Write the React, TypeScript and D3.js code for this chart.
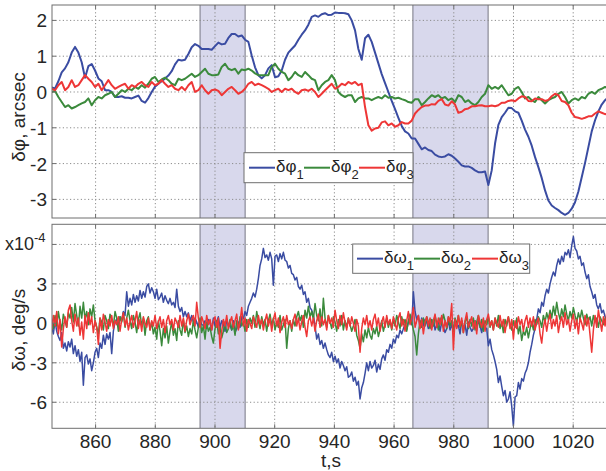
import React from "react";
import * as d3 from "d3";

// ---- data ----
const T_START = 845.3; // s, first sample
const PHI_STEP = 1.1167; // s between attitude samples
const OMEGA_STEP = 0.55835; // s between rate samples

const xTicks = [860, 880, 900, 920, 940, 960, 980, 1000, 1020];
const phiTicks = [2, 1, 0, -1, -2, -3];
const omegaTicks = [6, 3, 0, -3, -6];
const omegaTickLabels = ["", "3", "0", "-3", "-6"];
const shadedIntervals = [
  [895.0, 910.1],
  [966.3, 991.5],
];
const seriesColors = ["#3a4ca2", "#3b8a3c", "#ee3636"];
const phiNames = ["1", "2", "3"];

const dPhi1 = [
  0.13, 0.1, 0.3, 0.55, 0.66, 0.83, 1.1, 1.26, 1.1, 0.83, 0.4, 0.72, 0.78, 0.6, 0.38, 0.3, 0.05, 0.05, 0, -0.14,
  -0.14, -0.12, -0.16, -0.16, -0.18, -0.14, -0.1, -0.25, -0.3, -0.17, 0, 0.15, 0.23, 0.3, 0.38, 0.46, 0.58, 0.77, 0.9, 0.88,
  0.9, 1.06, 1.25, 1.34, 1.29, 1.2, 1.2, 1.2, 1.18, 1.28, 1.38, 1.33, 1.35, 1.51, 1.62, 1.62, 1.55, 1.58, 1.46, 1.4,
  1.02, 0.69, 0.47, 0.38, 0.47, 0.66, 0.75, 0.41, 0.44, 0.6, 0.9, 1.1, 1.2, 1.3, 1.46, 1.6, 1.72, 1.88, 2.1, 2.14,
  2.1, 2.17, 2.2, 2.15, 2.16, 2.22, 2.21, 2.21, 2.2, 2.17, 2.0, 1.72, 1.2, 0.9, 1.5, 1.6, 1.4, 1.1, 0.8, 0.5,
  0.25, 0, -0.25, -0.48, -0.72, -0.95, -1.1, -1.16, -1.3, -1.3, -1.45, -1.6, -1.55, -1.62, -1.65, -1.75, -1.8, -1.82, -1.8, -1.74,
  -1.78, -1.86, -1.95, -2.05, -2.08, -2.08, -2.12, -2.19, -2.24, -2.24, -2.22, -2.6, -2.19, -1.44, -0.92, -0.7, -0.58, -0.44, -0.45, -0.54,
  -0.58, -0.8, -1.05, -1.25, -1.5, -1.82, -2.1, -2.4, -2.75, -3.03, -3.17, -3.24, -3.3, -3.38, -3.43, -3.38, -3.26, -3.08, -2.78, -2.38,
  -1.98, -1.54, -1.1, -0.79, -0.54, -0.35, -0.23, -0.15,
];
const dPhi2 = [
  0, 0.03, -0.14, -0.28, -0.42, -0.37, -0.46, -0.42, -0.37, -0.32, -0.28, -0.18, -0.37, -0.23, -0.14, -0.18, -0.09, -0.05, 0, -0.14,
  -0.05, 0.05, 0, 0.09, 0.05, 0.14, 0.09, 0.19, 0.12, 0.23, 0.37, 0.42, 0.28, 0.35, 0.4, 0.33, 0.23, 0.19, 0.37, 0.33,
  0.37, 0.44, 0.51, 0.42, 0.47, 0.56, 0.65, 0.51, 0.47, 0.47, 0.49, 0.7, 0.79, 0.65, 0.61, 0.65, 0.51, 0.63, 0.61, 0.65,
  0.6, 0.52, 0.47, 0.47, 0.47, 0.47, 0.7, 0.79, 0.65, 0.56, 0.51, 0.33, 0.42, 0.56, 0.47, 0.42, 0.56, 0.47, 0.37, 0.33,
  0.05, 0.19, 0.28, 0.33, 0.47, 0.33, 0, -0.09, -0.14, -0.09, -0.09, -0.28, -0.18, -0.14, -0.18, -0.18, -0.23, -0.18, -0.14, -0.18,
  -0.09, -0.16, -0.14, -0.18, -0.16, -0.2, -0.23, -0.28, -0.3, -0.2, -0.2, -0.37, -0.28, -0.18, -0.09, -0.14, -0.09, -0.18, -0.14, -0.23,
  -0.18, -0.28, -0.09, -0.14, -0.28, -0.23, -0.32, -0.37, -0.28, -0.14, -0.05, 0.19, 0.09, 0.14, 0.09, 0.19, 0.05, -0.09, -0.05, 0.09,
  0.14, 0, -0.18, -0.14, -0.23, -0.28, -0.14, -0.23, -0.32, -0.23, -0.18, -0.14, -0.05, 0, -0.14, -0.32, -0.23, -0.18, -0.23, -0.14,
  -0.18, -0.05, 0, -0.05, 0.05, 0.09, 0.14, 0.09,
];
const dPhi3 = [
  0.09, 0.05, 0.19, 0.28, 0.05, 0.14, 0.33, 0.14, 0.19, 0.33, 0.47, 0.37, 0.28, 0.14, 0.23, 0.05, 0.19, 0.33, 0.19, 0.09,
  0.14, 0.19, 0.23, 0.09, 0.19, 0.14, 0.23, 0.28, 0.19, 0.14, 0.28, 0.19, 0.23, 0.33, 0.23, 0.14, 0.19, 0.09, 0.05, 0.14,
  0.05, 0.19, 0.28, 0, 0.05, 0.19, 0.05, -0.05, 0.05, 0.07, 0.03, -0.09, 0, 0.09, 0.14, 0.05, -0.05, 0, 0.09, 0.23,
  0.28, 0.19, 0.23, 0.19, 0.14, 0.09, 0, 0.05, 0.09, 0, 0.09, 0.05, 0.09, 0, -0.05, 0.05, 0.07, 0.03, 0.09, 0,
  -0.14, -0.05, 0.05, 0.14, 0.23, 0.09, 0.14, 0.23, 0.19, 0.28, 0.23, 0.28, 0.19, 0.23, -0.42, -0.93, -1.08, -1.02, -1.0, -0.85,
  -0.82, -0.93, -0.88, -0.97, -0.93, -0.84, -0.88, -0.88, -0.8, -0.6, -0.5, -0.42, -0.38, -0.38, -0.34, -0.35, -0.25, -0.2, -0.35, -0.38,
  -0.26, -0.35, -0.58, -0.55, -0.48, -0.46, -0.4, -0.4, -0.38, -0.37, -0.4, -0.4, -0.38, -0.4, -0.37, -0.3, -0.3, -0.25, -0.23, -0.26,
  -0.18, -0.12, -0.14, -0.25, -0.26, -0.18, -0.2, -0.2, -0.25, -0.22, -0.12, -0.05, -0.09, -0.25, -0.28, -0.37, -0.58, -0.7, -0.72, -0.75,
  -0.72, -0.68, -0.68, -0.6, -0.54, -0.58, -0.62, -0.6,
];

// rates, in units of 1e-4 deg/s
const dOmega1 = [
  -0.3, -0.8, 0.2, -0.6, -1.0, -1.3, -0.7, -1.9, -1.5, -2.1, -1.4, -1.8,
  -1.2, -2.3, -1.7, -2.5, -2.0, -2.9, -2.2, -4.7, -2.6, -2.4, -3.1, -2.7,
  -3.6, -3.0, -2.2, -1.9, -2.6, -1.5, -1.9, -0.9, -1.6, -0.8, -1.2, -0.7,
  -2.3, -0.6, 0.1, 0.35, -0.2, 0.5, 0.2, 0.9, 0.6, 2.4, 1.3, 1.9,
  1.4, 2.2, 1.6, 2.1, 1.7, 2.5, 1.9, 2.4, 2.0, 2.8, 3.0, 2.3,
  2.7, 2.4, 1.9, 2.6, 1.8, 2.0, 2.3, 1.6, 2.1, 1.75, 1.5, 1.9,
  1.4, 1.6, 1.2, 2.6, 1.3, 0.9, 1.2, 0.5, 0.9, 0.5, 0.8, 0.2,
  0.6, 0.1, 0.4, 0.1, -0.3, 0.3, -0.1, -0.15, 0.2, -0.4, 0.3, 0,
  -0.5, 0.4, -0.2, 0.1, 0.5, -0.3, 0.2, 0, -0.6, 0.3, -0.2, -0.15,
  -0.5, 0.2, -0.7, -0.4, 0.1, -0.3, 0.5, 0.35, 0.9, 0.6, 1.3, 1.6,
  1.9, 2.3, 2.0, 2.6, 3.4, 4.4, 4.9, 5.7, 5.0, 5.2, 4.8, 5.4,
  4.9, 2.9, 5.1, 5.2, 4.7, 5.3, 4.9, 5.4, 4.8, 4.7, 4.2, 4.4,
  3.8, 3.7, 3.3, 3.5, 2.8, 2.6, 2.9, 2.2, 2.4, 1.6, 1.9, 1.2,
  1.0, 0.6, -0.2, -1.2, -0.8, -1.6, -1.3, -1.9, -1.5, -2.0, -2.4, -2.6,
  -2.2, -2.9, -2.5, -3.0, -2.7, -3.4, -2.9, -3.2, -3.6, -3.3, -4.1, -4.0,
  -3.7, -4.4, -4.1, -4.7, -4.4, -5.75, -4.9, -4.5, -3.8, -3.0, -3.6, -2.9,
  -3.4, -3.2, -2.8, -3.7, -3.1, -3.5, -2.7, -2.4, -2.8, -2.0, -2.2, -1.6,
  -1.9, -1.2, -1.5, -0.9, -1.1, -0.5, -0.8, -0.4, -0.1, -0.5, 0.1, 0.4,
  -0.1, 2.4, 0.9, 0.3, 0.6, -0.3, 0.4, -0.2, 0.3, 0.1, -0.4, 0.2,
  -0.3, 0.3, -0.5, -0.15, 0.2, -0.6, 0.1, -0.3, -0.7, -0.4, 0.2, -0.5,
  -0.1, -0.6, 0.3, -0.3, -0.15, -0.8, 0.2, -0.4, -0.1, -0.9, 0.1, -0.3,
  -0.6, -0.4, 0.2, -0.5, 0.3, -0.2, -0.7, 0.1, -0.3, -0.4, -1.7, -1.2,
  -2.0, -2.4, -2.9, -3.5, -4.5, -4.0, -4.8, -5.5, -5.1, -6.0, -5.75, -5.2,
  -6.3, -7.8, -5.6, -5.5, -4.5, -5.0, -4.2, -4.4, -3.8, -3.5, -3.0, -2.2,
  -1.6, -0.9, -0.4, 0.3, 1.1, 0.8, 1.6, 1.3, 2.1, 2.6, 2.3, 3.0,
  3.5, 3.9, 3.6, 4.4, 4.9, 4.5, 5.1, 4.7, 5.4, 5.2, 5.6, 5.0,
  5.9, 6.6, 5.7, 5.5, 4.9, 5.1, 4.4, 4.6, 3.9, 3.4, 3.7, 2.8,
  2.4, 1.9, 2.2, 1.4, 1.1, 1.5, 0.8, 1.0, 0.5, 0.35, 0.6, 0.2,
];
const dOmega2 = [
  0.3, -0.4, 0.6, -0.2, 0.9, 0.1, -0.5, 0.7, 0.2, -0.3, 0.8, 0.4,
  1.2, 0.1, 1.5, 0.6, -0.2, 1.3, 0.4, 1.6, 0.3, 0.9, -0.1, 1.1,
  0.5, 1.4, 0.2, -0.3, -0.8, 0.4, 0.1, -0.5, 0.6, 0.2, -0.4, 0.7,
  0.3, -0.2, 0.9, 0.4, -0.6, 0.5, 0.1, 0.8, -0.3, 0.4, 1.0, 0.2,
  -0.4, 0.6, 0.1, -0.7, 0.3, 0.8, -0.2, 0.4, -0.9, 0.2, 0.5, -0.5,
  0.1, -0.8, -0.3, -1.2, 0.2, -0.6, -1.7, -0.4, -1.1, -0.2, -1.5, -0.6,
  0.1, -0.9, -0.4, -1.3, 0.2, -0.5, -0.9, 0.3, -0.7, -0.2, -1.0, -0.4,
  -0.8, 0.2, -0.5, -1.1, -0.3, 0.4, -0.7, -0.2, -1.2, 0.1, -0.6, -0.3,
  -1.0, -1.5, -0.4, 0.2, -0.8, -0.3, -1.1, -0.6, 0.1, -0.7, -0.4, 0.3,
  -0.5, -0.1, -0.9, 0.2, -0.4, 0.5, -0.2, 0.1, -0.6, 0.3, -0.3, 0.4,
  0.0, 0.6, -0.3, 0.9, 0.2, -0.4, 0.5, -0.1, 0.3, -0.6, 0.2, 0.7,
  -0.2, 0.4, -0.5, 0.1, -0.3, 0.6, -0.5, -0.1, 0.3, -1.9, -0.4, 0.2,
  -0.6, 0.3, -0.2, 0.5, 0.9, 0.2, 0.6, -0.3, 1.0, 0.4, 1.3, 0.5,
  0.9, 0.3, 1.5, 0.6, 0.2, 1.1, -0.2, 1.9, 0.4, -0.3, 0.6, 0.1,
  -0.4, 0.5, 0.1, -0.6, 0.3, -0.2, 0.6, -0.5, 0.2, -0.3, 0.4, -0.1,
  -0.6, -0.2, 0.3, -0.9, -1.3, -1.9, -0.8, -1.4, -0.5, -1.1, -0.3, -0.9,
  -1.2, -0.4, -0.8, -0.2, -1.0, -0.5, 0.2, -0.6, -0.1, 0.4, -0.3, 0.2,
  -0.5, 0.3, -0.2, 0.6, 0.1, -0.4, 0.5, -0.1, 0.3, -0.6, 0.2, 0.7,
  0.1, -0.5, -1.0, -2.4, -0.8, 0.2, -0.3, 0.4, -0.2, 0.5, 0.1, -0.4,
  0.3, -0.2, 0.6, 0.0, -0.5, 0.4, -0.1, 0.7, 0.2, -0.4, 0.5, -0.2,
  0.2, -0.6, 0.4, -0.1, 0.6, -0.3, 0.2, -0.7, 0.1, 0.5, -0.4, 0.3,
  -0.2, 0.4, -0.5, 0.1, 0.6, -0.3, 0.3, -0.6, 0.2, -0.1, 0.5, -0.3,
  0.2, -0.5, 0.4, -0.2, 0.6, -0.4, 0.1, -0.7, 0.3, -0.2, 0.5, -0.1,
  -0.5, 0.2, -0.3, 0.4, -0.8, -0.2, -1.3, -0.6, -0.9, -0.3, -1.1, -0.4,
  0.1, -0.5, 0.3, -0.1, 0.5, 0.2, -0.3, 0.6, 0.1, 0.8, 0.3, 1.0,
  0.4, 1.3, 0.6, 1.6, 0.8, 0.3, 1.1, 0.5, 1.4, 0.7, 0.2, 0.9,
  0.4, 1.2, 0.6, 0.1, 0.8, 0.3, 1.0, 0.4, -0.1, 0.7, 0.2, 0.5,
  -0.2, 0.6, 0.1, 0.4, -0.3, 0.5, 0.2, -0.1, 0.4, 0.0, 0.3, -0.2,
];
const dOmega3 = [
  -0.5, 0.6, -0.2, 0.9, -0.8, 0.3, -1.8, -0.4, 0.5, -0.3, 1.0, 1.4,
  0.2, -0.6, 0.7, -0.2, 0.4, -0.9, 0.1, -1.2, 0.6, -0.4, 0.8, -0.1,
  0.5, -0.7, 0.2, -0.3, -1.6, 0.4, -0.5, 0.7, 0.1, -0.6, 0.3, -0.2,
  0.6, -0.4, 0.2, -0.1, 0.5, -0.6, 0.3, 0.8, -0.2, 0.4, -0.5, 0.1,
  0.6, -0.3, 0.2, 0.9, -0.4, 0.3, -0.6, 0.5, 0.0, -0.3, 0.4, -0.5,
  0.2, -0.2, 0.6, -0.4, 0.1, 0.5, -0.3, 0.3, -0.7, 0.2, 0.6, -0.1,
  0.3, -0.5, 0.4, 0.1, -0.3, 0.6, -0.2, 0.4, -0.6, 0.2, 0.7, -0.1,
  0.3, 0.6, -0.2, 1.6, 0.4, -0.3, 0.5, 0.1, -0.4, 0.6, -0.1, 0.3,
  -0.5, 0.2, 0.5, -0.3, 0.4, -1.9, -0.6, 0.3, -0.2, 0.6, -0.4, 0.1,
  0.5, -0.3, 0.2, 0.7, -0.5, 0.1, 1.2, -0.2, 0.4, -0.6, 0.3, 0.0,
  -0.4, 0.5, 0.1, -0.3, 0.6, -0.1, 0.3, -0.5, 0.2, 0.7, -0.2, 0.4,
  -0.6, 0.3, 0.8, -0.2, 0.4, -0.7, 0.1, 0.5, -0.3, 0.6, -0.1, 0.2,
  -0.4, 0.3, 0.7, -0.2, 0.4, -0.5, 0.1, 0.6, -0.3, -1.0, 0.2, 0.5,
  -0.2, 0.4, -0.6, 0.2, 0.7, -0.3, 0.5, -0.1, 0.3, -0.5, 0.6, 0.0,
  0.4, -0.3, 1.0, 0.2, -0.4, 0.6, -0.1, 0.8, 0.1, -0.5, 0.4, -0.2,
  0.5, 0.0, -0.6, 0.3, -0.2, -2.2, -0.4, 0.4, -0.1, 0.6, -0.3, 0.2,
  -0.5, 0.3, 0.7, -0.2, 0.4, -0.6, 0.1, 0.5, -0.3, 0.6, -0.1, 0.3,
  -0.4, 0.5, 0.0, -0.5, 0.4, 0.8, -0.2, 0.3, -0.6, 0.2, 0.9, -0.1,
  0.4, 1.2, -0.3, 0.2, 0.6, -0.4, 0.3, -0.8, 0.1, 0.5, -0.2, 0.4,
  -0.5, 0.2, 0.7, -0.3, 0.4, -0.1, 0.6, -0.6, 0.2, -0.3, 0.5, 0.1,
  1.5, -2.0, 0.3, -0.4, 0.6, -0.2, 0.4, -0.7, 0.2, 0.8, -0.3, 0.1,
  0.5, -0.4, 0.2, -0.8, 0.6, 0.1, -0.3, 0.4, -0.6, 0.3, 0.7, -0.2,
  0.2, -0.5, 0.4, 0.0, -0.3, 0.6, -0.2, 0.3, -0.7, 0.1, 0.5, -0.4,
  0.3, -1.2, 0.2, -0.4, 0.5, -0.1, 0.3, -0.6, 0.2, 0.6, -0.3, 0.4,
  -0.2, 0.5, -0.5, 0.1, 0.4, -0.8, -1.5, -0.3, 0.3, -0.6, 0.2, 0.7,
  -0.4, 0.3, -0.2, 0.6, -0.7, 0.1, 0.5, -0.3, 0.8, -0.1, 0.3, -0.6,
  0.2, 0.7, -0.4, 0.3, -0.8, 0.4, 0.0, -0.5, 0.6, -0.2, 0.4, -0.9,
  -2.2, -0.5, 0.6, -0.3, 1.0, 0.2, -0.6, 0.5, -0.2, 0.8, -0.4, 0.3,
];

// ---- layout ----
const W = 606;
const H = 471;
const PLOT_L = 52;
const PLOT_R = 612;
const TOP = { y0: 5, y1: 218, domain: [-3.52, 2.43] };
const BOT = { y0: 224.3, y1: 428.3, domain: [-7.98, 7.53] };
const FONT = "'Liberation Sans', Arial, Helvetica, sans-serif";
const TXT = "#262626";
const FRAME = "#6e6e6e";

const x = d3.scaleLinear().domain([845.4, 1033.0]).range([PLOT_L, PLOT_R]);

function Panel({ id, y0, y1, domain, series, step, width, ticks, tickLabels }) {
  const y = d3.scaleLinear().domain(domain).range([y1, y0]);
  const line = d3
    .line<number>()
    .x((_, i) => x(T_START + i * step))
    .y((d) => y(d));
  return (
    <g>
      <defs>
        <clipPath id={id}>
          <rect x={PLOT_L} y={y0} width={PLOT_R - PLOT_L} height={y1 - y0} />
        </clipPath>
      </defs>
      <rect x={PLOT_L} y={y0} width={PLOT_R - PLOT_L} height={y1 - y0} fill="#fff" />
      <g clipPath={`url(#${id})`}>
        {shadedIntervals.map(([a, b], k) => (
          <g key={k}>
            <rect x={x(a)} y={y0} width={x(b) - x(a)} height={y1 - y0} fill="#d8d8ec" />
            <line x1={x(a)} x2={x(a)} y1={y0} y2={y1} stroke="#777784" strokeWidth={1} />
            <line x1={x(b)} x2={x(b)} y1={y0} y2={y1} stroke="#777784" strokeWidth={1} />
          </g>
        ))}
        {xTicks.map((t) => (
          <line key={t} x1={x(t)} x2={x(t)} y1={y0} y2={y1} stroke="#8c8c8c" strokeWidth={1} strokeDasharray="1.2,2.4" />
        ))}
        {ticks.map((v) => (
          <line key={v} x1={PLOT_L} x2={PLOT_R} y1={y(v)} y2={y(v)} stroke="#8c8c8c" strokeWidth={1} strokeDasharray="1.2,2.4" />
        ))}
        {series.map((s, k) => (
          <path key={k} d={line(s) || ""} fill="none" stroke={seriesColors[k]} strokeWidth={width} strokeLinejoin="round" />
        ))}
      </g>
      {xTicks.map((t) => (
        <g key={t}>
          <line x1={x(t)} x2={x(t)} y1={y1} y2={y1 - 4} stroke={FRAME} />
          <line x1={x(t)} x2={x(t)} y1={y0} y2={y0 + 4} stroke={FRAME} />
        </g>
      ))}
      {ticks.map((v, k) => (
        <g key={v}>
          <line x1={PLOT_L} x2={PLOT_L + 4} y1={y(v)} y2={y(v)} stroke={FRAME} />
          <text x={PLOT_L - 5} y={y(v) + 7} textAnchor="end" fontSize={19} fill={TXT} fontFamily={FONT}>
            {tickLabels[k]}
          </text>
        </g>
      ))}
      <rect x={PLOT_L} y={y0} width={PLOT_R - PLOT_L} height={y1 - y0} fill="none" stroke={FRAME} strokeWidth={1} />
    </g>
  );
}

function Legend({ x0, y0, w, h, sym, items }) {
  return (
    <g fontFamily={FONT}>
      <rect x={x0} y={y0} width={w} height={h} fill="#fff" stroke={FRAME} strokeWidth={1} />
      {items.map((it, k) => (
        <g key={k}>
          <line x1={it.lx} x2={it.lx + 26} y1={y0 + h / 2} y2={y0 + h / 2} stroke={seriesColors[k]} strokeWidth={2} />
          <text x={it.lx + 27} y={y0 + h / 2 + 4} fontSize={17} fill={TXT}>
            {sym}
            <tspan fontSize={13} dy={7}>
              {phiNames[k]}
            </tspan>
          </text>
        </g>
      ))}
    </g>
  );
}

export default function App() {
  return (
    <svg
      width={W}
      height={H}
      viewBox={`0 0 ${W} ${H}`}
      style={{ position: "absolute", left: 0, top: 0, background: "#fff" }}
      fontFamily={FONT}
    >
      <rect x={0} y={0} width={W} height={H} fill="#fff" />
      <Panel
        id="clipTop"
        y0={TOP.y0}
        y1={TOP.y1}
        domain={TOP.domain}
        series={[dPhi1, dPhi2, dPhi3]}
        step={PHI_STEP}
        width={2}
        ticks={phiTicks}
        tickLabels={phiTicks.map(String)}
      />
      <Panel
        id="clipBot"
        y0={BOT.y0}
        y1={BOT.y1}
        domain={BOT.domain}
        series={[dOmega1, dOmega2, dOmega3]}
        step={OMEGA_STEP}
        width={1.5}
        ticks={omegaTicks}
        tickLabels={omegaTickLabels}
      />
      <Legend
        x0={244}
        y0={152.7}
        w={169}
        h={30}
        sym="δφ"
        items={[{ lx: 249 }, { lx: 304 }, { lx: 359 }]}
      />
      <Legend
        x0={352.7}
        y0={244}
        w={177}
        h={29.3}
        sym="δω"
        items={[{ lx: 357 }, { lx: 414 }, { lx: 472 }]}
      />
      {xTicks.map((t) => (
        <text key={t} x={x(t)} y={448} textAnchor="middle" fontSize={19} fill={TXT}>
          {t}
        </text>
      ))}
      <text x={331} y={467} textAnchor="middle" fontSize={19} fill={TXT}>
        t,s
      </text>
      <text transform="translate(25,117) rotate(-90)" textAnchor="middle" fontSize={19} fill={TXT}>
        δφ, arcsec
      </text>
      <text transform="translate(25,330) rotate(-90)" textAnchor="middle" fontSize={19} fill={TXT}>
        δω, deg/s
      </text>
      <text x={5} y={250} fontSize={18} fill={TXT}>
        x10
        <tspan fontSize={13} dy={-8}>
          -4
        </tspan>
      </text>
    </svg>
  );
}
